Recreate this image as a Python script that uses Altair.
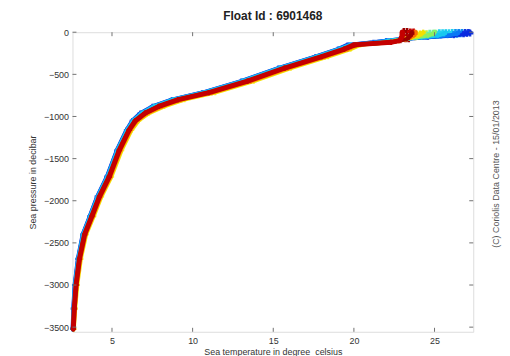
import altair as alt
import pandas as pd

# Pressure levels (decibar) shared by all profiles
pressure = [0, -20, -40, -60, -80, -100, -120, -150, -200, -290, -425, -580, -716,
            -800, -880, -960, -1050, -1160, -1400, -1714, -1950, -2184, -2400,
            -2690, -3000, -3280, -3520]

# Temperature profiles (deg C), early (blue) to late (red)
temp_blue = [27.2, 27.0, 26.2, 24.6, 23.0, 22.0, 21.2, 19.6, 19.0, 17.6, 15.3, 13.0, 10.6,
             8.7, 7.5, 6.75, 6.25, 5.9, 5.3, 4.68, 4.08, 3.62, 3.18, 2.88, 2.68, 2.6, 2.56]
temp_lightblue = [26.5, 26.4, 25.8, 24.5, 23.0, 22.0, 21.3, 19.7, 19.05, 17.65, 15.35, 13.05, 10.65,
                  8.75, 7.55, 6.8, 6.28, 5.92, 5.32, 4.7, 4.1, 3.64, 3.2, 2.9, 2.7, 2.61, 2.57]
temp_cyan = [25.7, 25.6, 25.2, 24.2, 23.0, 22.2, 21.6, 19.8, 19.1, 17.7, 15.4, 13.1, 10.7,
             8.8, 7.6, 6.85, 6.32, 5.95, 5.35, 4.73, 4.13, 3.66, 3.22, 2.91, 2.71, 2.62, 2.57]
temp_green = [25.0, 24.9, 24.6, 23.9, 23.2, 22.6, 22.1, 20.1, 19.5, 18.1, 15.8, 13.5, 11.1,
              9.2, 8.0, 7.12, 6.5, 6.1, 5.5, 4.87, 4.26, 3.78, 3.33, 3.0, 2.79, 2.67, 2.61]
temp_yellow = [24.3, 24.2, 24.0, 23.6, 23.2, 22.8, 22.3, 20.4, 19.8, 18.4, 16.1, 13.8, 11.4,
               9.5, 8.25, 7.3, 6.65, 6.22, 5.6, 4.97, 4.35, 3.87, 3.4, 3.07, 2.85, 2.72, 2.64]
temp_orange = [23.8, 23.8, 23.7, 23.5, 23.2, 22.8, 22.3, 20.2, 19.6, 18.2, 15.9, 13.6, 11.2,
               9.3, 8.08, 7.18, 6.55, 6.14, 5.52, 4.9, 4.29, 3.81, 3.35, 3.02, 2.81, 2.69, 2.62]
temp_darkred = [23.6, 23.6, 23.5, 23.4, 23.3, 22.9, 22.3, 20.1, 19.4, 18.0, 15.7, 13.4, 11.0,
                9.1, 7.9, 7.05, 6.45, 6.06, 5.45, 4.83, 4.22, 3.75, 3.3, 2.98, 2.77, 2.66, 2.6]
temp_red = [23.0, 23.0, 23.0, 22.95, 22.9, 22.8, 22.3, 20.0, 19.4, 18.0, 15.7, 13.4, 11.0,
            9.1, 7.9, 7.05, 6.45, 6.06, 5.45, 4.83, 4.22, 3.75, 3.3, 2.98, 2.77, 2.66, 2.6]

# Near-surface samples of the many cycles (the horizontal band at the top)
surf_T = [23.8, 24.0, 24.2, 24.4, 24.6, 24.8, 25.0, 25.2, 25.4, 25.6, 25.8, 26.0,
          26.2, 26.4, 26.6, 26.8, 27.0, 27.2,
          23.9, 24.1, 24.3, 24.5, 24.7, 24.9, 25.1, 25.3, 25.5, 25.7, 25.9, 26.1,
          26.3, 26.5, 26.7, 26.9, 27.1,
          23.1, 23.3, 23.5, 23.7, 23.1, 23.3, 23.5, 23.2, 23.4]
surf_P = [-55, -50, -50, -45, -45, -40, -40, -35, -35, -30, -30, -30,
          -25, -25, -20, -20, -15, -10,
          -20, -20, -15, -15, -10, -10, -10, -5, -5, -5, -5, 0,
          0, 0, 0, 0, 0,
          10, 10, 5, 5, -40, -45, -40, -80, -80]
surf_group = ["yellow", "yellow", "yellow", "lime", "lime", "green", "green", "cyan", "cyan",
              "cyan", "cyan", "cyan", "lightblue", "lightblue", "lightblue", "blue", "blue", "blue",
              "yellow", "yellow", "lime", "lime", "green", "green", "green", "cyan", "cyan",
              "cyan", "cyan", "cyan", "lightblue", "lightblue", "lightblue", "blue", "blue",
              "darkred", "darkred", "red", "red", "red", "darkred", "red", "red", "darkred"]

profiles = [
    ("blue", temp_blue, "#0a2ae0", 4),
    ("lightblue", temp_lightblue, "#0a78f5", 4),
    ("cyan", temp_cyan, "#18c8f0", 4),
    ("green", temp_green, "#8cf060", 4),
    ("yellow", temp_yellow, "#f2e000", 4),
    ("orange", temp_orange, "#ff7000", 4),
    ("darkred", temp_darkred, "#9a0000", 4),
    ("red", temp_red, "#c40000", 5),
]
surf_colors = {"yellow": "#f2e000", "lime": "#c0f040", "green": "#70f0a0",
               "cyan": "#20d0f0", "lightblue": "#1090f0", "blue": "#1035e0",
               "red": "#c80000", "darkred": "#9a0000"}

x_ticks = [5, 10, 15, 20, 25]
y_ticks = [0, -500, -1000, -1500, -2000, -2500, -3000, -3500]

X_DOMAIN = [2.55, 27.4]
Y_DOMAIN = [-3555, 0]
W, H = 404, 302
FONT = "Liberation Sans"

x_axis = alt.Axis(title="Sea temperature in degree_celsius", values=x_ticks, ticks=False,
                  domain=False, grid=False, labelPadding=5, titlePadding=2,
                  labelFontSize=9, titleFontSize=9, labelColor="#333333", format="d",
                  titleColor="#333333", titleFontWeight="normal", labelFont=FONT, titleFont=FONT)
y_axis = alt.Axis(title="Sea pressure in decibar", values=y_ticks, ticks=False,
                  domain=False, grid=False, labelPadding=4, titlePadding=6,
                  labelFontSize=9, titleFontSize=9, labelColor="#333333", format="d",
                  titleColor="#333333", titleFontWeight="normal", labelFont=FONT, titleFont=FONT)

def xenc(field):
    return alt.X(field, type="quantitative", scale=alt.Scale(domain=X_DOMAIN, nice=False, zero=False), axis=x_axis)

def yenc(field):
    return alt.Y(field, type="quantitative", scale=alt.Scale(domain=Y_DOMAIN, nice=False, zero=False), axis=y_axis)

layers = []
surf_df = pd.DataFrame({"T": surf_T, "P": surf_P, "g": surf_group})
layers.append(alt.Chart(surf_df).mark_point(shape="cross", filled=True, size=45, opacity=1).encode(
    x=xenc("T"), y=yenc("P"),
    color=alt.Color("g:N", scale=alt.Scale(domain=list(surf_colors.keys()),
                                           range=list(surf_colors.values())), legend=None)))

for name, temps, color, sw in profiles:
    df = pd.DataFrame({"T": temps, "P": pressure, "i": list(range(len(pressure)))})
    base = alt.Chart(df)
    layers.append(base.mark_line(color=color, strokeWidth=sw, strokeCap="round", strokeJoin="round")
                  .encode(x=xenc("T"), y=yenc("P"), order="i:Q"))
    layers.append(base.mark_point(shape="cross", color=color, filled=True, size=28)
                  .encode(x=xenc("T"), y=yenc("P")))

xt = alt.Chart(pd.DataFrame({"t": x_ticks}))
yt = alt.Chart(pd.DataFrame({"t": y_ticks}))
tick_color = "#707070"
layers += [
    xt.mark_rule(color=tick_color).encode(x=xenc("t"), y=alt.value(H), y2=alt.value(H - 4)),
    xt.mark_rule(color=tick_color).encode(x=xenc("t"), y=alt.value(0), y2=alt.value(4)),
    yt.mark_rule(color=tick_color).encode(y=yenc("t"), x=alt.value(0), x2=alt.value(4)),
    yt.mark_rule(color=tick_color).encode(y=yenc("t"), x=alt.value(W), x2=alt.value(W - 4)),
]

credit = alt.Chart(pd.DataFrame({"a": [0]})).mark_text(
    angle=270, fontSize=9, color="#555555", font=FONT
).encode(x=alt.value(W + 23), y=alt.value(143), text=alt.value("(C) Coriolis Data Centre - 15/01/2013"))
layers.append(credit)

chart = alt.layer(*layers).properties(
    width=W, height=H,
    title=alt.TitleParams("Float Id : 6901468", fontSize=12, fontWeight="bold", font=FONT,
                          color="#222222", anchor="middle", offset=5),
    autosize=alt.AutoSizeParams(type="none"),
    padding={"left": 65, "top": 23, "right": 29, "bottom": 23},
).configure_view(stroke="#808080", strokeWidth=1).configure(background="white")

chart.save("out.html", embed_options={"renderer": "svg", "actions": False})
